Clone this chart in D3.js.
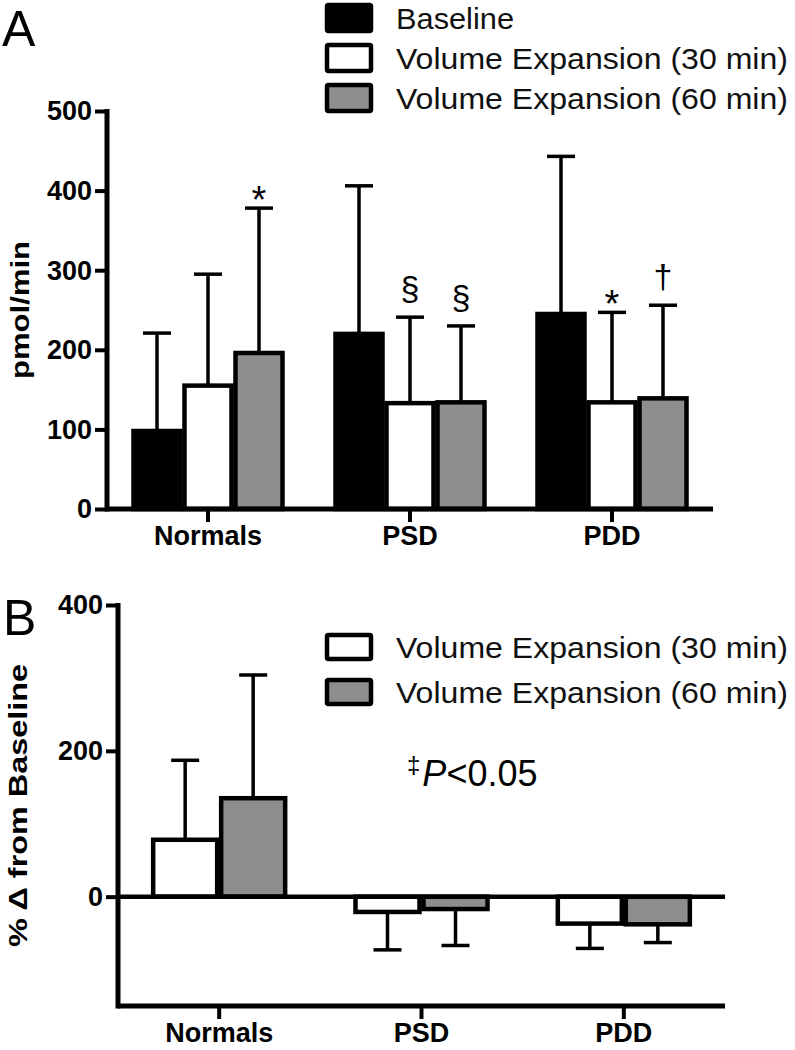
<!DOCTYPE html>
<html><head><meta charset="utf-8">
<script src="https://cdn.jsdelivr.net/npm/d3@7"></script>
<style>
body{margin:0;background:#fff;}
text{font-family:"Liberation Sans",Arial,Helvetica,sans-serif;}
</style></head>
<body>
<svg id="c" width="795" height="1050"></svg>
<script>
// ---- Data ----
const groups = ["Normals", "PSD", "PDD"];
const seriesA = ["Baseline", "Volume Expansion (30 min)", "Volume Expansion (60 min)"];
const baselineA = [98, 220, 245];
const ve30A = [155, 133, 134];
const ve60A = [196, 134, 139];
const baselineErrA = [221, 406, 443];
const ve30ErrA = [295, 241, 247];
const ve60ErrA = [378, 230, 256];
const marksA = [["", "", "*"], ["", "§", "§"], ["", "*", "†"]];
const ticksA = [0, 100, 200, 300, 400, 500];

const seriesB = ["Volume Expansion (30 min)", "Volume Expansion (60 min)"];
const ve30B = [78, -21, -37];
const ve60B = [135, -17, -38];
const ve30ErrB = [187, -73, -71];
const ve60ErrB = [304, -67, -63];
const ticksB = [0, 200, 400];
const noteB = "P<0.05";

const fills = {"Baseline": "#000", "Volume Expansion (30 min)": "#fff", "Volume Expansion (60 min)": "#8e8e8e"};

const svg = d3.select("#c");

function panel(cfg) {
  const g = svg.append("g");
  const x = d3.scaleBand().domain(groups).range([cfg.x0, cfg.x1]).padding(0);
  const y = d3.scaleLinear().domain(cfg.domain).range([cfg.yb, cfg.yt]);
  const xs = d3.scaleBand().domain(cfg.series).range([0, cfg.groupW]).padding(0);
  const y0 = y(0);

  // error bars
  cfg.series.forEach((s, si) => {
    groups.forEach((grp, gi) => {
      const v = cfg.values[si][gi];
      const e = cfg.errs[si][gi];
      const bx = x(grp) + x.bandwidth() / 2 - cfg.groupW / 2 + xs(s);
      const cx = bx + xs.bandwidth() / 2;
      g.append("line").attr("x1", cx).attr("x2", cx).attr("y1", y(v)).attr("y2", y(e))
        .attr("stroke", "#000").attr("stroke-width", 3.5);
      g.append("line").attr("x1", cx - 14).attr("x2", cx + 14).attr("y1", y(e)).attr("y2", y(e))
        .attr("stroke", "#000").attr("stroke-width", 3.5);
    });
  });
  // bars and marks
  cfg.series.forEach((s, si) => {
    groups.forEach((grp, gi) => {
      const v = cfg.values[si][gi];
      const bx = x(grp) + x.bandwidth() / 2 - cfg.groupW / 2 + xs(s);
      g.append("rect").attr("x", bx + 2).attr("width", xs.bandwidth() - 4)
        .attr("y", Math.min(y(v), y0)).attr("height", Math.abs(y(v) - y0))
        .attr("fill", fills[s]).attr("stroke", "#000").attr("stroke-width", 4.5);
      if (cfg.marks && cfg.marks[gi][si]) {
        const m = cfg.marks[gi][si];
        const cy = y(cfg.errs[si][gi]);
        const off = m === "*" ? 5 : -17;
        g.append("text").attr("x", bx + xs.bandwidth() / 2).attr("y", cy + off)
          .attr("text-anchor", "middle").attr("font-size", m === "*" ? 38 : 34).text(m);
      }
    });
  });

  // y axis
  const ya = g.append("g").attr("transform", `translate(${cfg.x0},0)`)
    .call(d3.axisLeft(y).tickValues(cfg.ticks).tickSize(12).tickPadding(3));
  ya.select(".domain").remove();
  g.append("line").attr("x1", cfg.x0).attr("x2", cfg.x0).attr("y1", y(cfg.domain[1]) - 2).attr("y2", cfg.yb + 2.5)
    .attr("stroke", "#000").attr("stroke-width", 5);
  ya.selectAll(".tick line").attr("stroke", "#000").attr("stroke-width", 4);
  ya.selectAll(".tick text").attr("font-size", 28).attr("font-weight", "bold").attr("fill", "#000")
    .attr("font-family", "'Liberation Sans',Arial,sans-serif").attr("textLength", d => String(d).length * 15)
    .attr("lengthAdjust", "spacingAndGlyphs");

  // x axis
  const xa = g.append("g").attr("transform", `translate(0,${cfg.yb})`)
    .call(d3.axisBottom(x).tickSize(13).tickPadding(4));
  xa.select(".domain").remove();
  g.append("line").attr("x1", cfg.x0).attr("x2", cfg.x1).attr("y1", cfg.yb).attr("y2", cfg.yb)
    .attr("stroke", "#000").attr("stroke-width", 5);
  xa.selectAll(".tick line").attr("stroke", "#000").attr("stroke-width", 4);
  xa.selectAll(".tick text").attr("font-size", 27).attr("font-weight", "bold").attr("fill", "#000")
    .attr("font-family", "'Liberation Sans',Arial,sans-serif");
  if (cfg.zeroLine) {
    g.append("line").attr("x1", cfg.x0).attr("x2", cfg.x1).attr("y1", y0).attr("y2", y0)
      .attr("stroke", "#000").attr("stroke-width", 4.5);
  }

  // y title
  const yc = (y(cfg.domain[1]) + cfg.yb) / 2;
  g.append("text").attr("transform", `translate(${cfg.titleX},${yc}) rotate(-90)`)
    .attr("text-anchor", "middle").attr("font-size", 25).attr("font-weight", "bold")
    .attr("textLength", cfg.titleLen).attr("lengthAdjust", "spacingAndGlyphs").text(cfg.title);

  // panel letter
  g.append("text").attr("x", cfg.letterX).attr("y", cfg.letterY).attr("font-size", 50).text(cfg.letter);

  // legend
  cfg.series.forEach((s, i) => {
    const ly = cfg.legY + i * cfg.legStep;
    g.append("rect").attr("x", 327).attr("y", ly - cfg.legH / 2).attr("width", 44).attr("height", cfg.legH)
      .attr("fill", fills[s]).attr("stroke", "#000").attr("stroke-width", 4.5).attr("rx", 1.5);
    g.append("text").attr("x", 396).attr("y", ly + 11).attr("font-size", 30).attr("fill", "#111")
      .attr("textLength", s.length > 10 ? 392 : 118).attr("lengthAdjust", "spacingAndGlyphs").text(s);
  });
  return {x, y};
}

panel({
  x0: 107, x1: 713, yb: 509, yt: 111, domain: [0, 500], groupW: 153,
  series: seriesA, values: [baselineA, ve30A, ve60A], errs: [baselineErrA, ve30ErrA, ve60ErrA],
  marks: marksA, ticks: ticksA, title: "pmol/min", titleX: 29, titleLen: 138,
  letter: "A", letterX: 2, letterY: 46, legY: 18, legStep: 40, legH: 26
});

panel({
  x0: 118, x1: 725, yb: 1006, yt: 605, domain: [-150, 400], groupW: 136,
  series: seriesB, values: [ve30B, ve60B], errs: [ve30ErrB, ve60ErrB],
  marks: null, ticks: ticksB, title: "% \u0394 from Baseline", titleX: 27, titleLen: 283, zeroLine: true,
  letter: "B", letterX: 3, letterY: 635, legY: 647, legStep: 45, legH: 24
});

// note in panel B
const note = svg.append("text").attr("x", 407).attr("y", 786).attr("font-size", 36);
note.append("tspan").attr("font-size", 24).attr("dy", -13).text("\u2021");
note.append("tspan").attr("dy", 13).attr("font-style", "italic").attr("dx", 2).text(noteB.slice(0, 1));
note.append("tspan").text(noteB.slice(1));
</script>
</body></html>
